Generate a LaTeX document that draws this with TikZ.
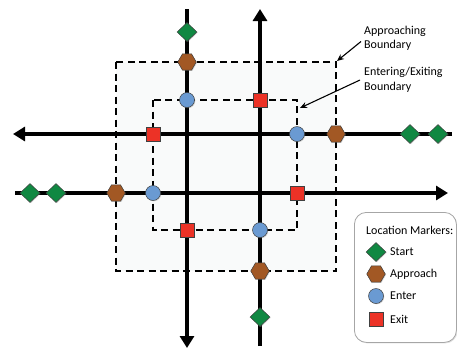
\documentclass[tikz,border=0pt]{standalone}
\usepackage{fontspec}
\setmainfont{Carlito}
\usetikzlibrary{arrows.meta,shapes.geometric,shadows}
\definecolor{mgreen}{RGB}{16,136,66}
\definecolor{mbrown}{RGB}{162,88,36}
\definecolor{mblue}{RGB}{106,154,210}
\definecolor{mred}{RGB}{236,50,38}
\definecolor{zonefill}{RGB}{249,250,250}
\begin{document}
\begin{tikzpicture}[x=1pt,y=-1pt,
  road/.style={line width=4.5pt, black},
  roadarrow/.style={road, -{Triangle[length=12pt,width=14pt]}},
  bound/.style={line width=1.6pt, dash pattern=on 7pt off 4.5pt},
  note/.style={line width=1.1pt, -{Stealth[length=7pt,width=6pt]}},
  mk/.style={draw=black!75, line width=0.5pt, inner sep=0pt,
    drop shadow={shadow xshift=0.8pt, shadow yshift=-0.8pt, opacity=0.3}},
  startm/.style={mk, diamond, fill=mgreen, minimum width=20pt, minimum height=19pt},
  approachm/.style={mk, regular polygon, regular polygon sides=6, fill=mbrown, minimum size=18.5pt},
  enterm/.style={mk, circle, fill=mblue, minimum size=15pt},
  exitm/.style={mk, rectangle, fill=mred, minimum size=14pt},
  lbl/.style={font=\fontsize{12}{14.5}\selectfont, align=left, inner sep=0pt, anchor=west}]
\useasboundingbox (0,0) rectangle (457,349);

% zones
\fill[zonefill] (116,62) rectangle (336,271);
\draw[bound] (116,62) rectangle (336,271);
\draw[bound] (153,100) rectangle (297,230);

% road end points
\coordinate (v1s) at (187,9);   \coordinate (v1e) at (187,348);
\coordinate (v2s) at (260,346); \coordinate (v2e) at (260,9);
\coordinate (h1s) at (452,134); \coordinate (h1e) at (13,134);
\coordinate (h2s) at (15,193);  \coordinate (h2e) at (448,193);
\draw[roadarrow] (v1s) -- (v1e);
\draw[roadarrow] (v2s) -- (v2e);
\draw[roadarrow] (h1s) -- (h1e);
\draw[roadarrow] (h2s) -- (h2e);

% vertical road 1 (downwards)
\node[startm] (v1a) at (187,32) {};
\node[approachm] (v1b) at (187,62) {};
\node[enterm] (v1c) at (187,100) {};
\node[exitm] (v1d) at (187,230) {};
% vertical road 2 (upwards)
\node[startm] (v2a) at (260,317) {};
\node[approachm] (v2b) at (260,271) {};
\node[enterm] (v2c) at (260,230) {};
\node[exitm] (v2d) at (260,100) {};
% horizontal road 1 (leftwards)
\node[startm] (h1a) at (438,134) {};
\node[startm] (h1a2) at (410,134) {};
\node[approachm] (h1b) at (336,134) {};
\node[enterm] (h1c) at (297,134) {};
\node[exitm] (h1d) at (153,134) {};
% horizontal road 2 (rightwards)
\node[startm] (h2a) at (30,193) {};
\node[startm] (h2a2) at (56,193) {};
\node[approachm] (h2b) at (116,193) {};
\node[enterm] (h2c) at (153,193) {};
\node[exitm] (h2d) at (297,193) {};

% annotations
\node[lbl] (appr) at (364,38.5) {Approaching\\Boundary};
\node[lbl] (entx) at (364,80) {Entering/Exiting\\Boundary};
\coordinate (apprcorner) at (337,61);
\coordinate (entxpt) at (300,108);
\draw[note] (appr.west) ++(-3,3) coordinate (at1) (at1) -- (apprcorner);
\draw[note] (entx.west) ++(-4,0) coordinate (at2) (at2) -- (entxpt);

% legend
\node[draw=black!35, line width=0.8pt, fill=white, rounded corners=12pt,
  drop shadow={shadow xshift=1pt, shadow yshift=-1pt, opacity=0.25},
  minimum width=102pt, minimum height=130pt, anchor=north west] (legend) at (354,212) {};
\node[lbl] (ltitle) at (366,230) {Location Markers:};
\node[startm] (ls) at (376,252) {};
\node[lbl] (lst) at (390,252) {Start};
\node[approachm] (la) at (376,274) {};
\node[lbl] (lat) at (390,274) {Approach};
\node[enterm] (le) at (376,296) {};
\node[lbl] (let) at (390,296) {Enter};
\node[exitm] (lx) at (376.5,319) {};
\node[lbl] (lxt) at (390,319) {Exit};
\end{tikzpicture}
\end{document}
